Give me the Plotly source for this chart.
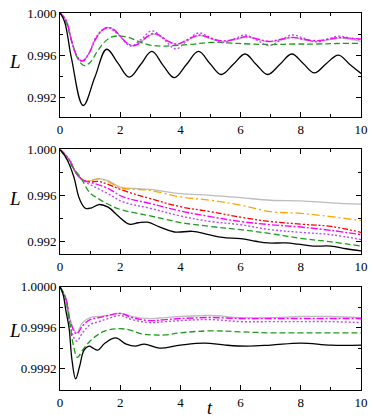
"""Three-panel L(t) comparison chart."""

import plotly.graph_objects as go

# ---------------------------------------------------------------------------
# Data
# ---------------------------------------------------------------------------

# Panel 1
p1_black_t = [0, 0.15, 0.38, 0.77, 1.16, 1.55, 1.93, 2.3, 2.68, 3.05, 3.43, 3.8, 4.2,
              4.6, 4.98, 5.35, 5.75, 6.15, 6.52, 6.9, 7.3, 7.7, 8.08, 8.45, 8.85,
              9.25, 9.63, 10.0]
p1_black_L = [1.0, 0.9992, 0.9957, 0.9912, 0.9939, 0.99655, 0.9952, 0.9939, 0.9951,
              0.99635, 0.9950, 0.99385, 0.9951, 0.99635, 0.9952, 0.99415, 0.9951,
              0.9961, 0.9951, 0.99415, 0.9951, 0.9961, 0.9952, 0.9943, 0.9952,
              0.9960, 0.9951, 0.99425]

p1_green_t = [0, 0.2, 0.4, 0.6, 0.8, 1.0, 1.25, 1.5, 1.75, 2.0, 2.3, 2.6, 3.0, 3.4,
              3.8, 4.3, 5.0, 5.6, 6.3, 7.0, 7.8, 8.5, 9.2, 10.0]
p1_green_L = [1.0, 0.9991, 0.9972, 0.9956, 0.9950, 0.9953, 0.9964, 0.9973, 0.99775,
              0.9978, 0.99765, 0.9973, 0.99695, 0.99685, 0.9969, 0.9970, 0.9972,
              0.99715, 0.99705, 0.9970, 0.99705, 0.99705, 0.9971, 0.99712]

p1_magenta_t = [0, 0.2, 0.4, 0.6, 0.75, 0.95, 1.2, 1.4, 1.6, 1.8, 2.0, 2.2, 2.4, 2.6,
                2.85, 3.1, 3.35, 3.6, 3.9, 4.25, 4.65, 5.0, 5.4, 5.8, 6.2, 6.6, 6.95,
                7.35, 7.75, 8.1, 8.5, 8.9, 9.3, 9.65, 10.0]
p1_magenta_L = [1.0, 0.9993, 0.9972, 0.9957, 0.99543, 0.9961, 0.9976, 0.99835,
                0.99862, 0.9984, 0.9978, 0.9972, 0.99688, 0.99705, 0.99765, 0.99805,
                0.9978, 0.9973, 0.99705, 0.9975, 0.9979, 0.9976, 0.99735, 0.9975,
                0.99775, 0.9975, 0.9973, 0.9975, 0.99768, 0.9975, 0.99737, 0.9975,
                0.99767, 0.9976, 0.99752]

p1_violet_t = [0, 0.2, 0.4, 0.6, 0.75, 0.95, 1.2, 1.55, 1.95, 2.35, 2.7, 3.05, 3.45,
               3.85, 4.2, 4.6, 5.0, 5.4, 5.8, 6.15, 6.55, 6.95, 7.35, 7.72, 8.1, 8.5,
               8.9, 9.25, 9.65, 10.0]
p1_violet_L = [1.0, 0.9993, 0.9972, 0.9957, 0.9954, 0.9961, 0.9977, 0.99862, 0.9979,
               0.99685, 0.9975, 0.9983, 0.9975, 0.99658, 0.9973, 0.9981, 0.99765,
               0.9972, 0.99755, 0.9979, 0.9974, 0.9969, 0.99745, 0.9979, 0.9976,
               0.99725, 0.9975, 0.9978, 0.9976, 0.99745]

p1_grey_t = [0, 0.2, 0.4, 0.6, 0.75, 0.95, 1.2, 1.4, 1.6, 1.8, 2.0, 2.2, 2.4, 2.6,
             2.85, 3.1, 3.35, 3.6, 3.9, 4.25, 4.65, 5.0, 5.4, 5.8, 6.2, 6.6, 6.95,
             7.35, 7.75, 8.1, 8.5, 8.9, 9.3, 9.65, 10.0]
p1_grey_L = [1.0, 0.9993, 0.9972, 0.9957, 0.99545, 0.9961, 0.9976, 0.99835, 0.9986,
             0.9984, 0.9978, 0.9972, 0.9969, 0.99705, 0.9976, 0.9980, 0.99775,
             0.9973, 0.9970, 0.99745, 0.99785, 0.99755, 0.9973, 0.99745, 0.9977,
             0.99745, 0.99725, 0.99745, 0.99765, 0.99745, 0.9973, 0.99745, 0.99762,
             0.9975, 0.9973]

# Panel 2
p2_black_t = [0, 0.2, 0.45, 0.65, 0.85, 1.05, 1.3, 1.6, 1.95, 2.3, 2.6, 2.9, 3.3, 3.8,
              4.4, 4.9, 5.4, 6.0, 6.5, 6.9, 7.5, 7.9, 8.4, 9.0, 9.5, 10.0]
p2_black_L = [1.0, 0.9993, 0.9977, 0.9957, 0.9949, 0.99495, 0.99523, 0.9950, 0.9942,
              0.99353, 0.99365, 0.9937, 0.9933, 0.99285, 0.99291, 0.99265, 0.99238,
              0.99228, 0.99205, 0.9919, 0.9919, 0.9918, 0.99163, 0.99163, 0.9914,
              0.99121]

p2_green_t = [0, 0.3, 0.5, 0.68, 1.0, 1.3, 1.55, 2.0, 2.5, 3.0, 3.5, 4.0, 5.0, 6.0,
              7.0, 8.0, 9.0, 10.0]
p2_green_L = [1.0, 0.99887, 0.9982, 0.99759, 0.99623, 0.9957, 0.99532, 0.99481,
              0.9945, 0.99424, 0.99395, 0.99367, 0.99333, 0.99305, 0.99271, 0.9923,
              0.992, 0.99163]

p2_violet_t = [0, 0.3, 0.55, 0.8, 1.0, 1.55, 2.1, 3.0, 4.0, 5.0, 6.0, 7.0, 8.0, 9.0,
               10.0]
p2_violet_L = [1.0, 0.99915, 0.9979, 0.99725, 0.99695, 0.99623, 0.99546, 0.9949,
               0.99424, 0.99376, 0.99348, 0.99305, 0.99282, 0.99262, 0.9922]

p2_magenta_t = [0, 0.3, 0.55, 0.8, 1.0, 1.55, 2.1, 3.0, 4.0, 5.0, 6.0, 7.0, 8.0, 9.0,
                10.0]
p2_magenta_L = [1.0, 0.99915, 0.9979, 0.9973, 0.99716, 0.99668, 0.99589, 0.99532,
                0.99467, 0.99418, 0.99376, 0.99348, 0.99328, 0.99299, 0.99262]

p2_red_t = [0, 0.3, 0.55, 0.8, 1.0, 1.3, 1.55, 2.1, 3.0, 4.0, 5.0, 6.0, 7.0, 8.0, 9.0,
            10.0]
p2_red_L = [1.0, 0.99915, 0.9979, 0.9973, 0.9972, 0.99722, 0.99702, 0.99645, 0.99574,
            0.99504, 0.99461, 0.99413, 0.99376, 0.99353, 0.99333, 0.99282]

p2_orange_t = [0, 0.3, 0.55, 0.8, 1.0, 1.3, 1.6, 2.0, 2.5, 3.0, 4.0, 5.0, 6.0, 7.0,
               8.0, 9.0, 10.0]
p2_orange_L = [1.0, 0.99915, 0.9979, 0.9973, 0.9973, 0.99745, 0.99722, 0.99668,
               0.99655, 0.99645, 0.99589, 0.9956, 0.99518, 0.99461, 0.99447, 0.99418,
               0.99384]

p2_grey_t = [0, 0.3, 0.55, 0.8, 1.0, 1.3, 1.6, 2.0, 2.5, 3.0, 4.0, 5.0, 6.0, 7.0, 8.0,
             9.0, 10.0]
p2_grey_L = [1.0, 0.99915, 0.9979, 0.9973, 0.9973, 0.99748, 0.99728, 0.99674, 0.99662,
             0.99654, 0.99617, 0.99603, 0.99583, 0.9956, 0.99555, 0.99538, 0.99526]

# Panel 3
p3_black_t = [0, 0.1, 0.2, 0.3, 0.4, 0.52, 0.65, 0.8, 0.97, 1.1, 1.25, 1.5, 1.85, 2.2,
              2.5, 2.8, 3.3, 4.0, 4.8, 5.5, 6.2, 7.0, 8.0, 9.0, 10.0]
p3_black_L = [1.0, 0.99993, 0.99976, 0.9996, 0.99928, 0.9991, 0.99922, 0.99938,
              0.99942, 0.9994, 0.99938, 0.99945, 0.9995, 0.99944, 0.99942, 0.99944,
              0.9994, 0.99943, 0.99945, 0.99943, 0.99942, 0.99943, 0.99945, 0.99943,
              0.99943]

p3_green_t = [0, 0.15, 0.3, 0.45, 0.58, 0.75, 1.0, 1.25, 1.5, 1.9, 2.3, 2.7, 3.1, 3.5,
              4.0, 5.0, 6.0, 7.0, 8.0, 9.0, 10.0]
p3_green_L = [1.0, 0.99992, 0.9997, 0.99942, 0.99931, 0.99938, 0.99947, 0.99953,
              0.99957, 0.99959, 0.99958, 0.99954, 0.99953, 0.99953, 0.99955, 0.99957,
              0.99956, 0.99955, 0.99955, 0.99955, 0.99955]

p3_t = [0, 0.2, 0.35, 0.55, 0.75, 1.0, 1.3, 1.6, 2.0, 2.4, 3.0, 3.5, 4.0, 5.0, 6.0,
        7.0, 8.0, 9.0, 10.0]
p3_violet_L = [1.0, 0.99985, 0.9996, 0.99947, 0.99955, 0.99963, 0.99966, 0.99969,
               0.99972, 0.99968, 0.99965, 0.99966, 0.99967, 0.99968, 0.99966, 0.99966,
               0.99966, 0.99966, 0.99965]
p3_magenta_L = [1.0, 0.99988, 0.99965, 0.99954, 0.99962, 0.99968, 0.9997, 0.99972,
                0.99974, 0.9997, 0.99967, 0.99968, 0.99969, 0.9997, 0.99969, 0.99969,
                0.99969, 0.99969, 0.99969]
p3_grey_L = [1.0, 0.99989, 0.99967, 0.99955, 0.99965, 0.9997, 0.99971, 0.99972,
             0.99974, 0.99971, 0.99969, 0.9997, 0.99971, 0.99972, 0.9997, 0.9997,
             0.99971, 0.99971, 0.9997]

# Tick labels
x_ticks = [0, 2, 4, 6, 8, 10]
y_ticks_12 = [0.992, 0.996, 1.000]
y_ticks_3 = [0.9992, 0.9996, 1.0000]

# ---------------------------------------------------------------------------
# Styles
# ---------------------------------------------------------------------------

FONT = "Liberation Serif"
BLACK = dict(color="black", width=1.3)
GREEN = dict(color="#1e9a1e", width=1.3, dash="6px,3px")
VIOLET = dict(color="#b450f0", width=1.4, dash="2px,2px")
MAGENTA = dict(color="#ff00ff", width=1.4, dash="7px,2px,2px,2px")
GREY = dict(color="#bdbdbd", width=1.3)
RED = dict(color="#ff0000", width=1.3, dash="6px,2px,2px,2px,2px,2px")
ORANGE = dict(color="#ffa500", width=1.3, dash="8px,3px,2px,3px")

fig = go.Figure()


def add(t, L, line, n):
    xa = "x" if n == 1 else f"x{n}"
    ya = "y" if n == 1 else f"y{n}"
    fig.add_trace(go.Scatter(x=t, y=L, mode="lines", xaxis=xa, yaxis=ya,
                             line=dict(shape="spline", smoothing=1.1, **line),
                             showlegend=False, hoverinfo="skip"))


# Panel 1
add(p1_grey_t, p1_grey_L, GREY, 1)
add(p1_green_t, p1_green_L, GREEN, 1)
add(p1_violet_t, p1_violet_L, VIOLET, 1)
add(p1_magenta_t, p1_magenta_L, MAGENTA, 1)
add(p1_black_t, p1_black_L, BLACK, 1)

# Panel 2
add(p2_grey_t, p2_grey_L, GREY, 2)
add(p2_orange_t, p2_orange_L, ORANGE, 2)
add(p2_red_t, p2_red_L, RED, 2)
add(p2_magenta_t, p2_magenta_L, MAGENTA, 2)
add(p2_violet_t, p2_violet_L, VIOLET, 2)
add(p2_green_t, p2_green_L, GREEN, 2)
add(p2_black_t, p2_black_L, BLACK, 2)

# Panel 3
add(p3_t, p3_grey_L, GREY, 3)
add(p3_t, p3_violet_L, VIOLET, 3)
add(p3_t, p3_magenta_L, MAGENTA, 3)
add(p3_green_t, p3_green_L, GREEN, 3)
add(p3_black_t, p3_black_L, BLACK, 3)

# ---------------------------------------------------------------------------
# Axes
# ---------------------------------------------------------------------------

tickfont = dict(family=FONT, size=13, color="black")


def x_axis(anchor):
    return dict(
        domain=[0, 1], anchor=anchor, range=[0, 10],
        tickmode="array", tickvals=x_ticks, ticktext=[str(v) for v in x_ticks],
        ticks="inside", ticklen=5, tickcolor="black", tickwidth=1,
        minor=dict(tickmode="array", tickvals=[1, 3, 5, 7, 9], ticks="inside",
                   ticklen=3, tickcolor="black", showgrid=False),
        showline=True, linecolor="black", linewidth=1, mirror="allticks",
        showgrid=False, zeroline=False, tickfont=tickfont,
    )


def y_axis(anchor, domain, rng, ticks, minor, fmt):
    return dict(
        domain=domain, anchor=anchor, range=rng,
        tickmode="array", tickvals=ticks, ticktext=[fmt.format(v) for v in ticks],
        ticks="inside", ticklen=5, tickcolor="black", tickwidth=1,
        minor=dict(tickmode="array", tickvals=minor, ticks="inside", ticklen=3,
                   tickcolor="black", showgrid=False),
        showline=True, linecolor="black", linewidth=1, mirror="allticks",
        showgrid=False, zeroline=False, tickfont=tickfont,
    )


fig.update_layout(
    width=374, height=420,
    margin=dict(l=60, r=7, t=6, b=30),
    paper_bgcolor="white", plot_bgcolor="white",
    font=dict(family=FONT, color="black"),
    xaxis=x_axis("y"),
    xaxis2=x_axis("y2"),
    xaxis3=x_axis("y3"),
    yaxis=y_axis("x", [0.724, 1.0], [0.9901, 1.0], y_ticks_12,
                 [0.994, 0.998], "{:.3f}"),
    yaxis2=y_axis("x2", [0.360, 0.638], [0.99092, 1.0], y_ticks_12,
                  [0.994, 0.998], "{:.3f}"),
    yaxis3=y_axis("x3", [0.0, 0.2734], [0.99899, 1.0], y_ticks_3,
                  [0.9994, 0.9998], "{:.4f}"),
)

# Axis labels as annotations for precise placement
label_font = dict(family=FONT, size=19, color="black")
for ypx in (55, 195, 329):
    fig.add_annotation(text="<i>L</i>", xref="paper", yref="paper",
                       x=(14 - 60) / 307, y=1 - (ypx - 6) / 384,
                       showarrow=False, font=label_font,
                       xanchor="center", yanchor="middle")
fig.add_annotation(text="<i>t</i>", xref="paper", yref="paper",
                   x=(213 - 60) / 307, y=1 - (421 - 6) / 384,
                   showarrow=False, font=dict(family=FONT, size=18, color="black"),
                   xanchor="center", yanchor="bottom")

# page body has a default 8px margin; drop it so the figure fills the window
fig.write_html("out.html", config={"displayModeBar": False},
               post_script="document.body.style.margin='0';")
